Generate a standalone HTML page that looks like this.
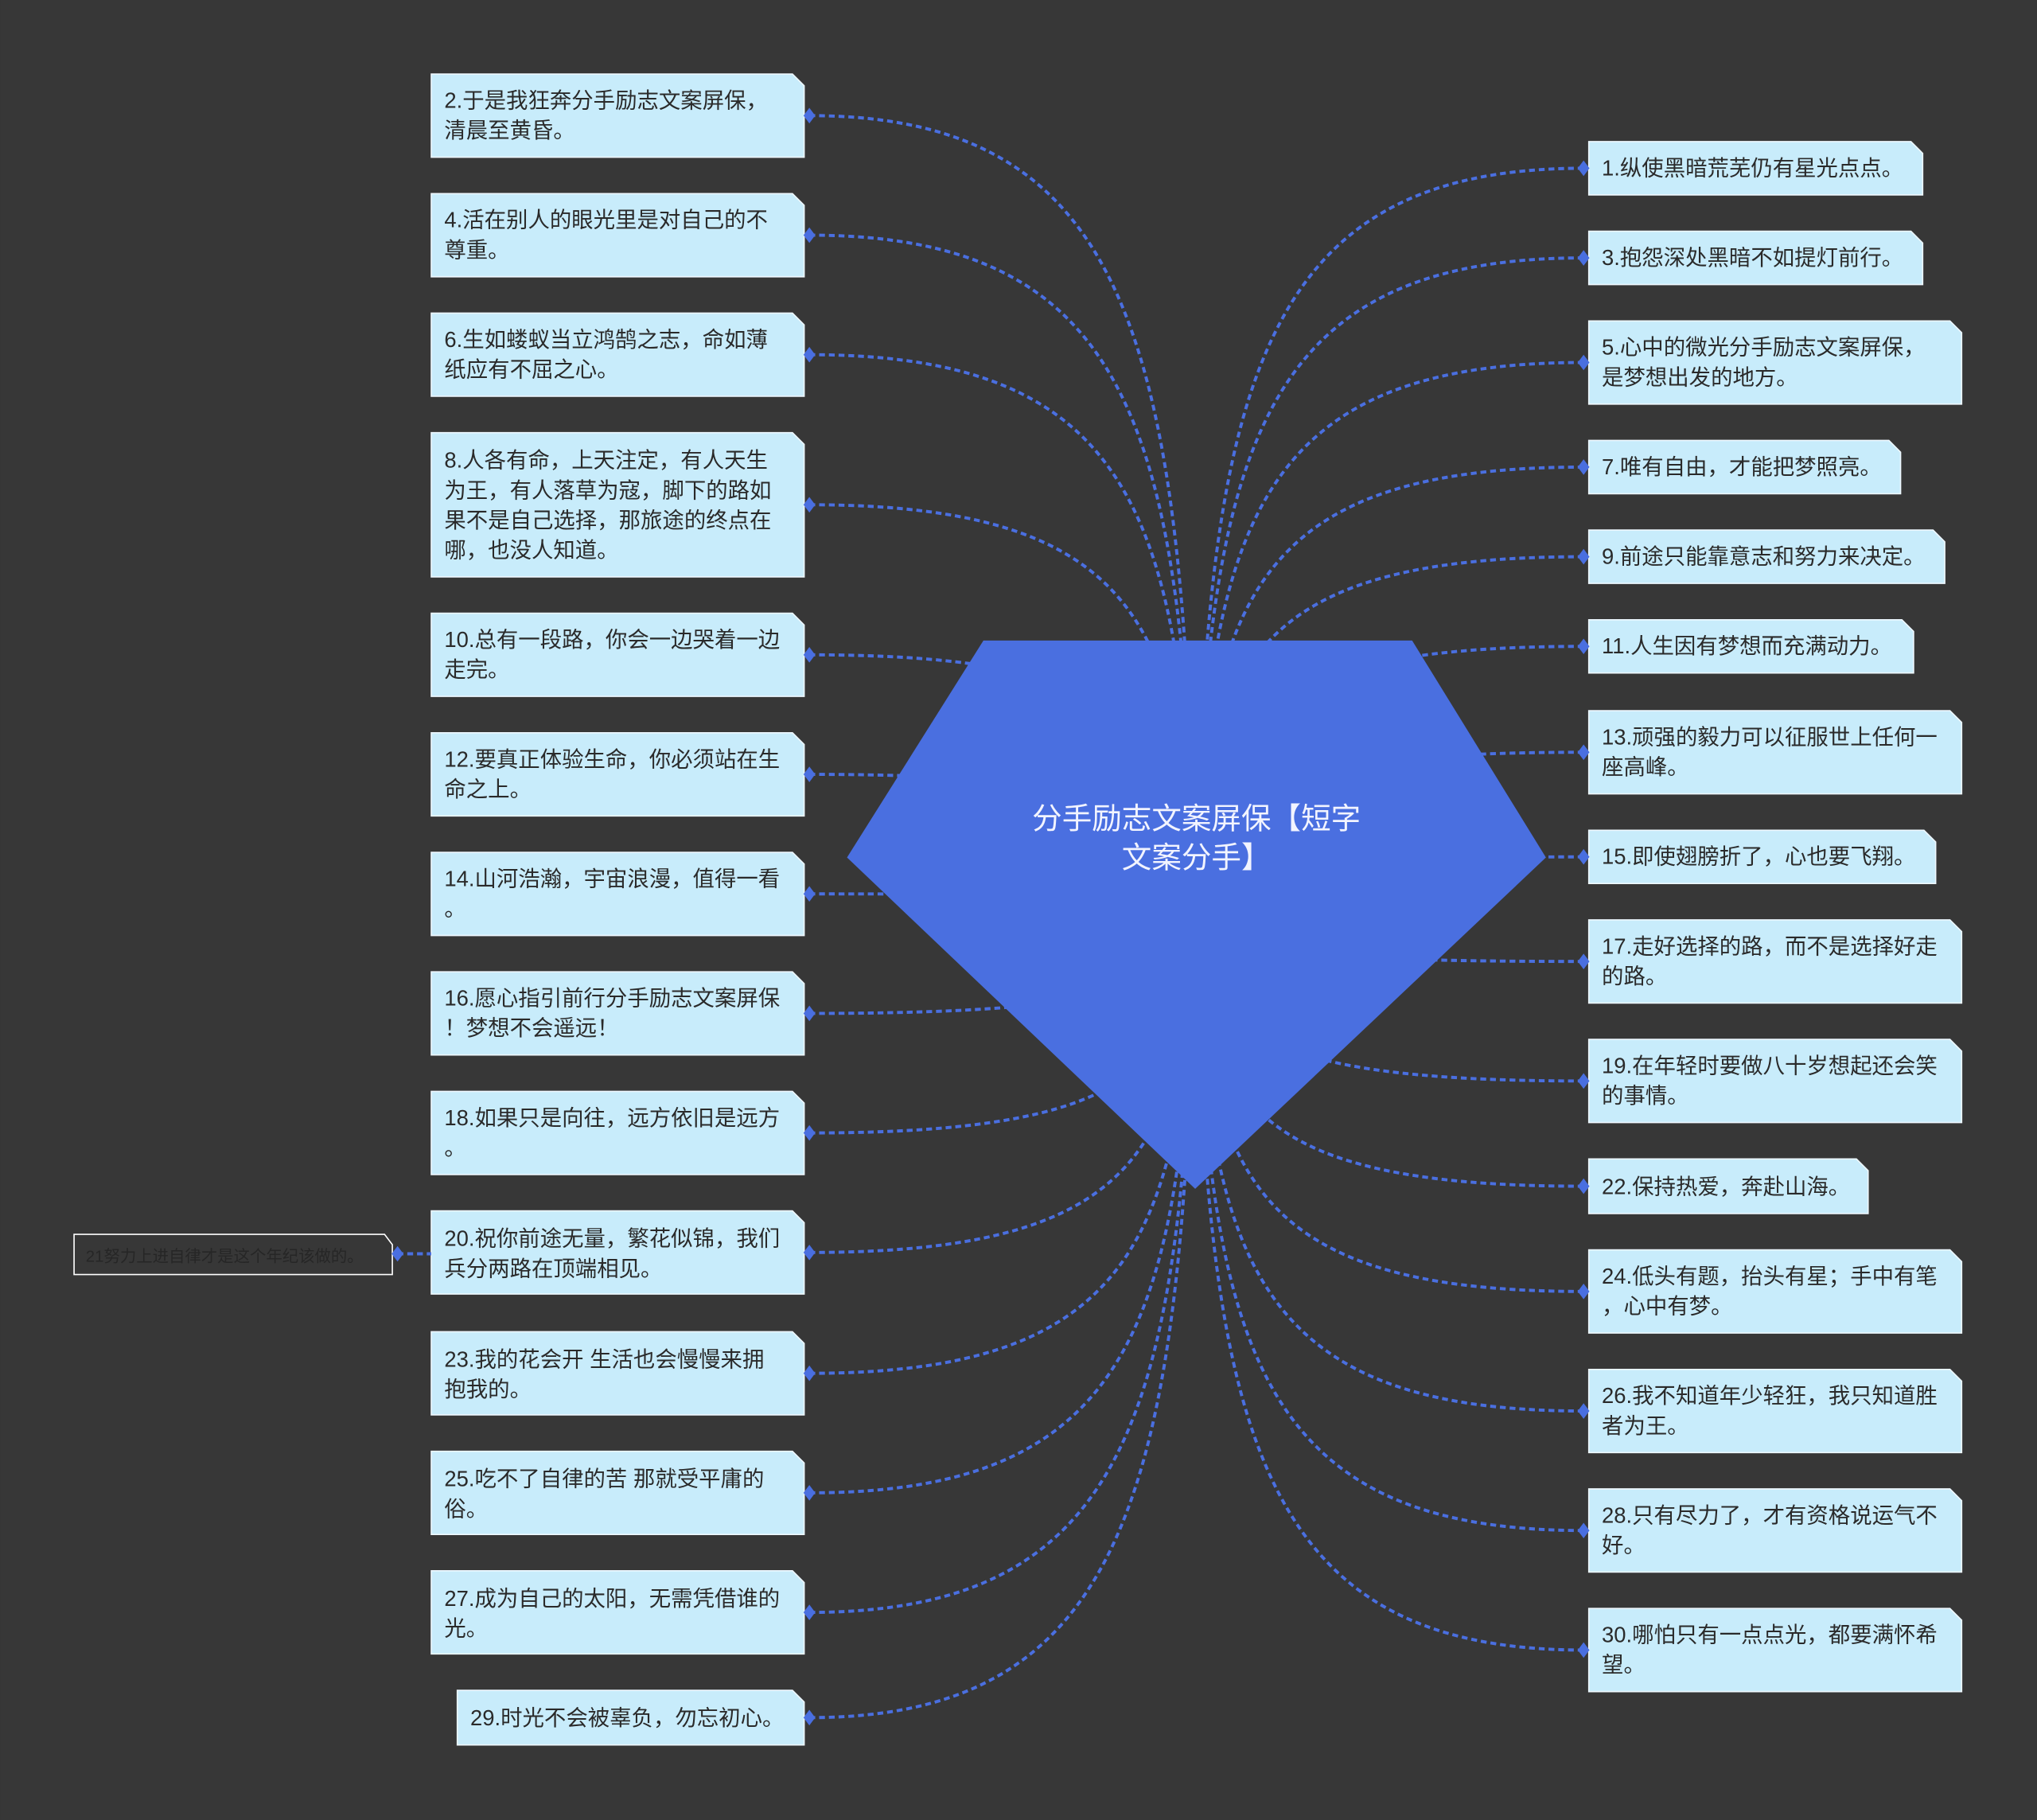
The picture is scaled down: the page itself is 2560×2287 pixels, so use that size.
<!DOCTYPE html>
<html><head><meta charset="utf-8"><style>
html,body{margin:0;padding:0;background:#373737;}
svg{display:block}
text{font-family:"Liberation Sans","Noto Sans CJK SC",sans-serif;font-size:16.8px;fill:#2a2a2a;}
</style></head><body>
<svg id="s" width="2560" height="2287" viewBox="0 0 1568 1400.8" xmlns="http://www.w3.org/2000/svg">
<rect width="1568" height="1401" fill="#373737"/>
<g id="lines" fill="none" stroke="#4a6fe0" stroke-width="2.4" stroke-dasharray="4.5 3"></g>
<polygon points="757,493 1087,493 1190,660 920,915 652,660" fill="#4a6fe0"/>
<text x="921" y="638" text-anchor="middle" style="font-size:23px;fill:#f2f4ff">分手励志文案屏保【短字</text>
<text x="921" y="668" text-anchor="middle" style="font-size:23px;fill:#f2f4ff">文案分手】</text>
<g id="boxes"></g>
<g id="txt">
<text x="342" y="83">2.于是我狂奔分手励志文案屏保，</text><text x="342" y="106">清晨至黄昏。</text>
<text x="342" y="175">4.活在别人的眼光里是对自己的不</text><text x="342" y="198">尊重。</text>
<text x="342" y="267">6.生如蝼蚁当立鸿鹄之志，命如薄</text><text x="342" y="290">纸应有不屈之心。</text>
<text x="342" y="360">8.人各有命，上天注定，有人天生</text><text x="342" y="383">为王，有人落草为寇，脚下的路如</text><text x="342" y="406">果不是自己选择，那旅途的终点在</text><text x="342" y="429">哪，也没人知道。</text>
<text x="342" y="498">10.总有一段路，你会一边哭着一边</text><text x="342" y="521">走完。</text>
<text x="342" y="590">12.要真正体验生命，你必须站在生</text><text x="342" y="613">命之上。</text>
<text x="342" y="682">14.山河浩瀚，宇宙浪漫，值得一看</text><text x="342" y="705">。</text>
<text x="342" y="774">16.愿心指引前行分手励志文案屏保</text><text x="342" y="797">！梦想不会遥远！</text>
<text x="342" y="866">18.如果只是向往，远方依旧是远方</text><text x="342" y="889">。</text>
<text x="342" y="959">20.祝你前途无量，繁花似锦，我们</text><text x="342" y="982">兵分两路在顶端相见。</text>
<text x="342" y="1052">23.我的花会开 生活也会慢慢来拥</text><text x="342" y="1075">抱我的。</text>
<text x="342" y="1144">25.吃不了自律的苦 那就受平庸的</text><text x="342" y="1167">俗。</text>
<text x="342" y="1236">27.成为自己的太阳，无需凭借谁的</text><text x="342" y="1259">光。</text>
<text x="362" y="1328">29.时光不会被辜负，勿忘初心。</text>
<text x="1233" y="135">1.纵使黑暗荒芜仍有星光点点。</text>
<text x="1233" y="204">3.抱怨深处黑暗不如提灯前行。</text>
<text x="1233" y="273">5.心中的微光分手励志文案屏保，</text><text x="1233" y="296">是梦想出发的地方。</text>
<text x="1233" y="365">7.唯有自由，才能把梦照亮。</text>
<text x="1233" y="434">9.前途只能靠意志和努力来决定。</text>
<text x="1233" y="503">11.人生因有梦想而充满动力。</text>
<text x="1233" y="573">13.顽强的毅力可以征服世上任何一</text><text x="1233" y="596">座高峰。</text>
<text x="1233" y="665">15.即使翅膀折了，心也要飞翔。</text>
<text x="1233" y="734">17.走好选择的路，而不是选择好走</text><text x="1233" y="757">的路。</text>
<text x="1233" y="826">19.在年轻时要做八十岁想起还会笑</text><text x="1233" y="849">的事情。</text>
<text x="1233" y="919">22.保持热爱，奔赴山海。</text>
<text x="1233" y="988">24.低头有题，抬头有星；手中有笔</text><text x="1233" y="1011">，心中有梦。</text>
<text x="1233" y="1080">26.我不知道年少轻狂，我只知道胜</text><text x="1233" y="1103">者为王。</text>
<text x="1233" y="1172">28.只有尽力了，才有资格说运气不</text><text x="1233" y="1195">好。</text>
<text x="1233" y="1264">30.哪怕只有一点点光，都要满怀希</text><text x="1233" y="1287">望。</text>
<text x="66" y="971" style="font-size:12.5px;fill:#262626">21努力上进自律才是这个年纪该做的。</text>
</g>
</svg>
<script>
var NS="http://www.w3.org/2000/svg";
var L=[[57,121],[149,213],[241,305],[333,444],[472,536],[564,628],[656,720],[748,812],[840,904],[932,996],[1025,1089],[1117,1181],[1209,1273],[1301,1343,352]];
var R=[[109,150,1480],[178,219,1480],[247,311,1510],[339,380,1463],[408,449,1497],[477,518,1473],[547,611,1510],[639,680,1490],[708,772,1510],[800,864,1510],[892,934,1438],[962,1026,1510],[1054,1118,1510],[1146,1210,1510],[1238,1302,1510]];
var lines=document.getElementById('lines'),boxes=document.getElementById('boxes');
function el(t,a,p){var e=document.createElementNS(NS,t);for(var k in a)e.setAttribute(k,a[k]);p.appendChild(e);return e;}
var OX=920,OY=700;
function box(x1,y1,x2,y2){
 el('polygon',{points:x1+','+y1+' '+(x2-9)+','+y1+' '+x2+','+(y1+9)+' '+x2+','+y2+' '+x1+','+y2,fill:'#c8ecfb',stroke:'#eef8ff','stroke-width':1},boxes);
}
function dia(x,y){el('polygon',{points:(x-4.5)+','+y+' '+x+','+(y-6)+' '+(x+4.5)+','+y+' '+x+','+(y+6),fill:'#4a6fe0'},boxes);}
L.forEach(function(b){var x1=b[2]||332;box(x1,b[0],619,b[1]);var y=(b[0]+b[1])/2;
 var px=623;el('path',{d:'M'+px+','+y+' C'+(px+(OX-px)*0.85)+','+y+' '+(OX-8)+','+(y+(OY-y)*0.3)+' '+OX+','+OY},lines);dia(px,y);});
R.forEach(function(b){box(1223,b[0],b[2],b[1]);var y=(b[0]+b[1])/2;
 var px=1219;el('path',{d:'M'+px+','+y+' C'+(px-(px-OX)*0.85)+','+y+' '+(OX+8)+','+(y+(OY-y)*0.3)+' '+OX+','+OY},lines);dia(px,y);});
el('polygon',{points:'57,950 296,950 302,958 302,981 57,981',fill:'#373737',stroke:'#ffffff','stroke-width':1},boxes);
el('path',{d:'M306,965 L332,965',fill:'none',stroke:'#4a6fe0','stroke-width':2.4,'stroke-dasharray':'4.5 3'},boxes);
dia(306,965);
</script>
</body></html>
